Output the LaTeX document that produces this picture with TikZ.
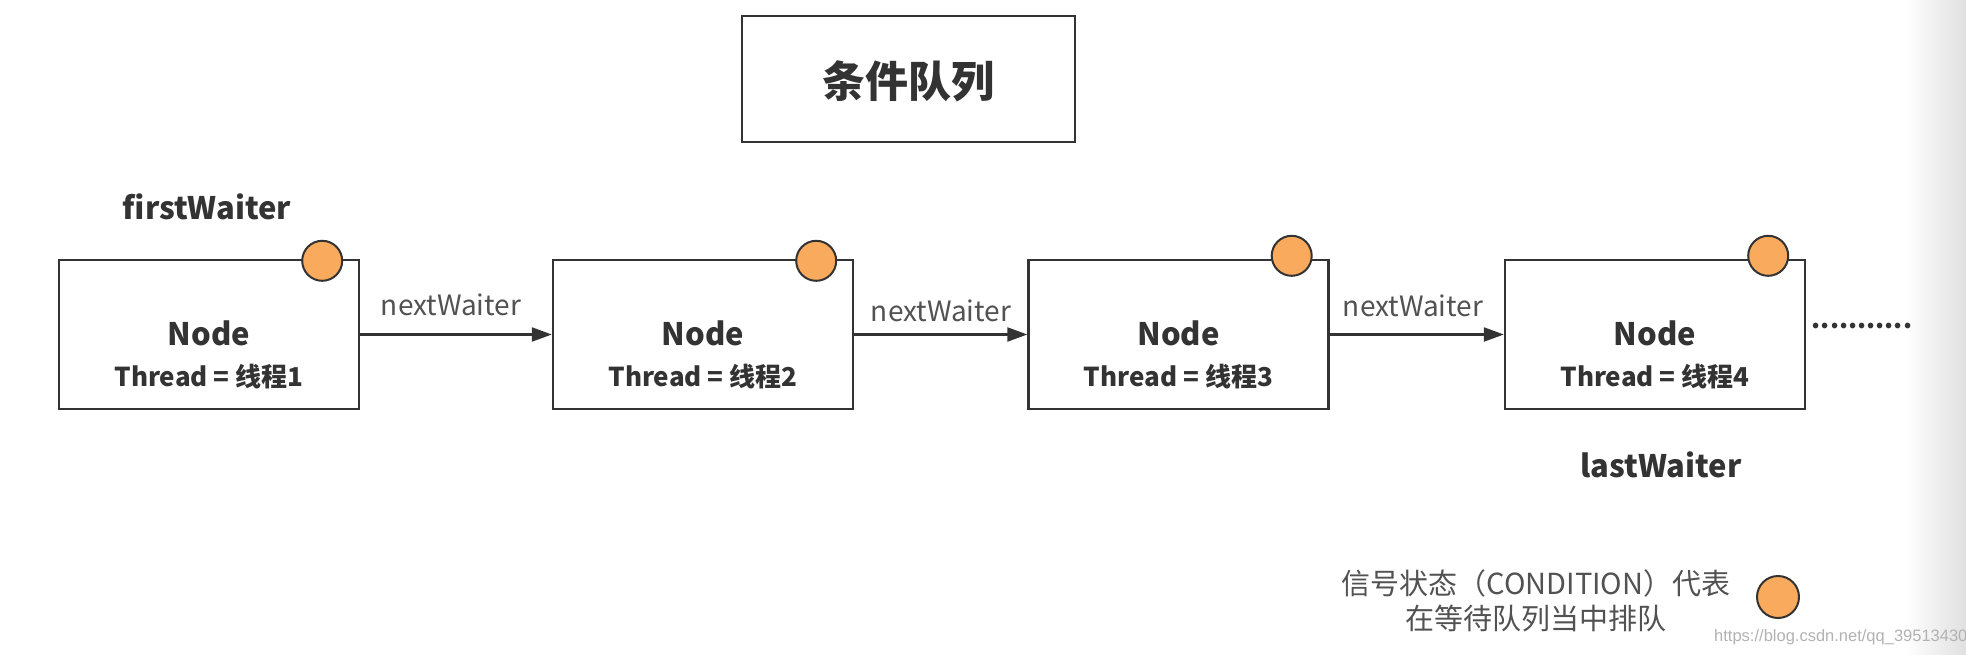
\documentclass[tikz,border=0pt]{standalone}
\usepackage{fontspec}
\setmainfont{Noto Sans CJK SC}
\newfontfamily\wmfont{Liberation Sans}
\usetikzlibrary{arrows.meta,calc}
\definecolor{ink}{RGB}{51,51,51}
\definecolor{dotorange}{RGB}{250,170,92}
\tikzset{
  px/.style={x=1pt,y=-1pt},
  nodebox/.style={draw=ink,line width=2.4pt,minimum width=300pt,minimum height=149pt,inner sep=0pt,fill=white},
  titlebox/.style={draw=ink,line width=2.2pt,minimum width=333pt,minimum height=126pt,inner sep=0pt},
  nodename/.style={font=\fontsize{31}{36}\selectfont\bfseries,text=ink,inner sep=0pt},
  threadtxt/.style={font=\fontsize{26}{30}\selectfont\bfseries,text=ink,inner sep=0pt},
  sdot/.style={circle,draw=ink,line width=2pt,fill=dotorange,minimum width=40pt,minimum height=38pt,inner sep=0pt},
  arr/.style={draw=ink,line width=2.2pt,-{Triangle[length=20pt,width=14pt]}},
  lbl/.style={font=\fontsize{28}{32}\selectfont,text=ink!85,inner sep=0pt},
  ptr/.style={font=\fontsize{31}{36}\selectfont\bfseries,text=ink,inner sep=0pt},
  legend/.style={font=\fontsize{29}{35}\selectfont,text=ink!85,inner sep=0pt,align=center}
}
\begin{document}
\begin{tikzpicture}[px]
\useasboundingbox (0,0) rectangle (1966,654);
\fill[white] (0,0) rectangle (1966,654);
\shade[left color=white,right color=black!12] (1905,0) rectangle (1966,654);
% title
\node[titlebox] (title) at (908.5,79) {};
\node[font=\fontsize{43}{48}\selectfont\bfseries,text=ink,inner sep=0pt] (titletxt) at (908,81) {条件队列};
% boxes
\node[nodebox] (n1) at (209,334.5) {};
\node[nodebox] (n2) at (703,334.5) {};
\node[nodebox] (n3) at (1178.5,334.5) {};
\node[nodebox] (n4) at (1655,334.5) {};
\foreach \i/\t in {1/线程1,2/线程2,3/线程3,4/线程4}{
  \node[nodename] (nm\i) at ($(n\i.center)+(0,-1)$) {Node};
  \node[threadtxt] (th\i) at ($(n\i.center)+(0,42)$) {Thread = \t};
}
% signal dots
\node[sdot] (c1) at ($(n1.north east)+(-38,2)$) {};
\node[sdot] (c2) at ($(n2.north east)+(-38,2)$) {};
\node[sdot] (c3) at ($(n3.north east)+(-38,-3)$) {};
\node[sdot] (c4) at ($(n4.north east)+(-38,-3)$) {};
% arrows
\draw[arr] (n1) -- (n2);
\draw[arr] (n2) -- (n3);
\draw[arr] (n3) -- (n4);
\node[lbl] (l1) at (451,305) {nextWaiter};
\node[lbl] (l2) at (941,311) {nextWaiter};
\node[lbl] (l3) at (1413,306) {nextWaiter};
% more
\node[font=\fontsize{26}{30}\selectfont\bfseries,text=ink,inner sep=0pt] (more) at (1862,326) {...........};
% pointers
\node[ptr] (fw) at (207,207) {firstWaiter};
\node[ptr] (lw) at (1661,465) {lastWaiter};
% legend
\node[legend] (leg) at (1536,601) {信号状态（CONDITION）代表\\在等待队列当中排队};
\node[sdot,minimum width=42pt,minimum height=40pt] (legdot) at (1778,597) {};
% watermark
\node[font=\wmfont\fontsize{16.5}{19}\selectfont,text=black!30,inner sep=0pt,anchor=west] (wm) at (1714,637) {https://blog.csdn.net/qq\_39513430};
\end{tikzpicture}
\end{document}
